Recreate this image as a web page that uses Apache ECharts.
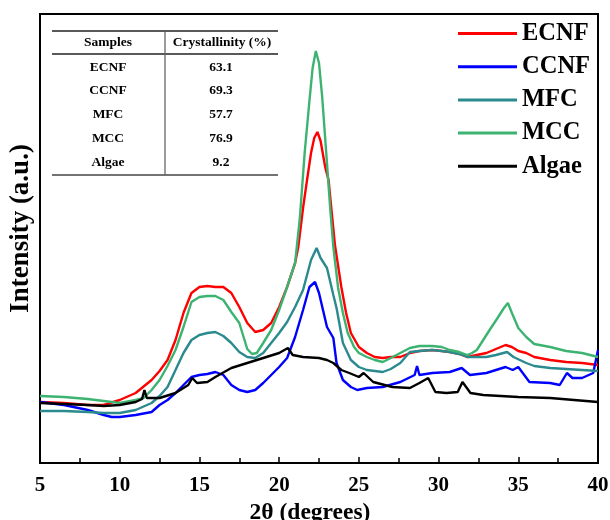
<!DOCTYPE html>
<html>
<head>
<meta charset="utf-8">
<script src="https://cdn.jsdelivr.net/npm/echarts@6/dist/echarts.min.js"></script>
<style>
  html, body { margin: 0; padding: 0; background: #fff; }
  #chart { width: 610px; height: 520px; }
</style>
</head>
<body>
<div id="chart"></div>
<script>
// XRD patterns, [2theta, intensity (a.u.)]
var ecnf = [[5,61],[6.5,60],[8,58],[9,58],[10,63],[11,70],[12,83],[12.5,92],[13,103],[13.5,123],[14,150],[14.5,170],[15,176],[15.5,177],[16,176],[16.5,176],[17,170],[17.5,156],[18,140],[18.5,131],[19,133],[19.5,140],[20,156],[20.5,176],[21,200],[21.2,216],[21.5,255],[21.75,283],[22,310],[22.2,325],[22.4,331],[22.6,322],[22.9,295],[23.1,283],[23.5,218],[23.9,176],[24.2,150],[24.5,130],[25,116],[25.5,110],[26,106],[26.5,105],[27,106],[27.6,106],[28.2,110],[28.8,112],[29.6,113],[30.2,112],[30.7,111],[31.3,109],[31.8,106],[32.4,108],[33,110],[33.6,114],[34.2,118],[34.6,116],[35,112],[35.5,110],[36,106],[37,103],[38,101],[39,100],[40,98]];
var ccnf = [[5,61],[6.5,58],[8,53],[9,48],[9.5,46],[10,46],[11,48],[12,51],[12.5,58],[13,63],[13.5,70],[14,78],[14.5,86],[15,88],[15.5,89],[16,91],[16.5,88],[17,78],[17.5,73],[18,71],[18.5,73],[19,80],[19.5,88],[20,96],[20.5,105],[21,126],[21.5,153],[21.9,176],[22.25,181],[22.5,170],[23,136],[23.4,125],[23.6,100],[24,83],[24.5,76],[24.9,73],[25.5,75],[26.5,76],[27.6,81],[28.5,88],[28.65,97],[28.8,88],[29.6,90],[30.7,91],[31.45,95],[31.97,88],[33,90],[34.2,96],[34.65,93],[35,96],[35.7,81],[37,80],[37.6,78],[38.05,90],[38.4,85],[39,85],[39.7,90],[40,113]];
var mfc = [[5,52],[6.5,52],[8,51],[9,50],[10,50],[11,53],[12,60],[12.5,67],[13,76],[13.5,93],[14,110],[14.5,123],[15,128],[15.5,130],[16,131],[16.5,127],[17,120],[17.5,111],[18,106],[18.5,105],[19,110],[19.5,120],[20,130],[20.5,141],[21,156],[21.5,173],[22,203],[22.35,215],[22.6,205],[23,195],[23.4,168],[23.6,155],[24,120],[24.5,103],[25,96],[25.5,93],[26.5,91],[27,94],[27.6,100],[28.2,111],[28.8,112],[29.6,113],[30.2,112],[30.7,111],[31.3,109],[31.8,106],[32.5,106],[33,106],[33.6,108],[34.3,111],[34.7,106],[35.5,100],[36,97],[37,95],[38,94],[39,93],[40,92]];
var mcc = [[5,67],[6.5,66],[8,64],[9,62],[10,60],[11,63],[11.5,65],[12,73],[12.5,83],[13,97],[13.5,113],[14,136],[14.5,161],[15,166],[15.5,167],[16,167],[16.5,163],[17,151],[17.5,140],[18,114],[18.3,109],[18.6,110],[19,120],[19.5,133],[20,153],[20.5,176],[21,200],[21.3,245],[21.6,310],[21.9,362],[22.1,395],[22.3,412],[22.5,400],[22.7,366],[23,300],[23.2,255],[23.4,216],[23.7,175],[24,150],[24.3,130],[24.7,116],[25,110],[25.5,106],[26,103],[26.5,101],[27,105],[27.6,110],[28.2,115],[28.8,117],[29.6,117],[30.2,116],[30.7,113],[31.3,111],[31.8,108],[32.1,110],[32.4,113],[32.8,123],[33.2,133],[33.7,145],[34.1,155],[34.35,160],[34.6,150],[35,135],[35.5,126],[36,119],[37,116],[38,112],[39,110],[40,106]];
var algae = [[5,60],[6.5,59],[8,58],[9,57],[10,58],[11,61],[11.4,64],[11.55,73],[11.7,65],[12.5,65],[13.5,70],[14,75],[14.3,78],[14.55,85],[14.85,80],[15.5,81],[16,86],[17,95],[18,100],[19,105],[20,110],[20.55,115],[20.85,108],[21.5,106],[22.5,105],[23,103],[23.4,100],[23.9,93],[24.4,90],[25,86],[25.3,90],[25.9,81],[27.1,76],[28.2,75],[28.8,80],[29.35,85],[29.8,71],[30.5,70],[31.2,71],[31.5,81],[32,70],[32.8,68],[35,66],[37,65],[40,61]];

var seriesNames = ['ECNF', 'CCNF', 'MFC', 'MCC', 'Algae'];
var seriesData = [ecnf, ccnf, mfc, mcc, algae];
var colors = ['#ff0000', '#0000ff', '#2a8a8e', '#3cb371', '#000000'];

// inset table
var samples = ['ECNF', 'CCNF', 'MFC', 'MCC', 'Algae'];
var crystallinity = ['63.1', '69.3', '57.7', '76.9', '9.2'];

var FONT = '"Liberation Serif", "Times New Roman", serif';

var chart = echarts.init(document.getElementById('chart'));

var series = seriesNames.map(function (name, i) {
  return {
    name: name,
    type: 'line',
    data: seriesData[i],
    showSymbol: false,
    symbol: 'none',
    smooth: false,
    lineStyle: { width: 2.4, color: colors[i] },
    itemStyle: { color: colors[i] },
    z: 2 + i
  };
});

// table built from the arrays above
var tbl = [];
var rowY = [68, 91, 115, 139, 163];
var cellFont = 'bold 13.5px ' + FONT;
tbl.push({ type: 'line', shape: { x1: 52, y1: 31, x2: 278, y2: 31 }, style: { stroke: '#222', lineWidth: 1.3 } });
tbl.push({ type: 'line', shape: { x1: 52, y1: 54, x2: 278, y2: 54 }, style: { stroke: '#222', lineWidth: 1.3 } });
tbl.push({ type: 'line', shape: { x1: 52, y1: 175, x2: 278, y2: 175 }, style: { stroke: '#444', lineWidth: 1.3 } });
tbl.push({ type: 'line', shape: { x1: 165, y1: 31, x2: 165, y2: 175 }, style: { stroke: '#666', lineWidth: 1.3 } });
tbl.push({ type: 'text', x: 108, y: 43, style: { text: 'Samples', font: cellFont, fill: '#000', align: 'center', verticalAlign: 'middle' } });
tbl.push({ type: 'text', x: 222, y: 43, style: { text: 'Crystallinity (%)', font: cellFont, fill: '#000', align: 'center', verticalAlign: 'middle' } });
samples.forEach(function (s, i) {
  tbl.push({ type: 'text', x: 108, y: rowY[i], style: { text: s, font: cellFont, fill: '#000', align: 'center', verticalAlign: 'middle' } });
  tbl.push({ type: 'text', x: 221, y: rowY[i], style: { text: crystallinity[i], font: cellFont, fill: '#000', align: 'center', verticalAlign: 'middle' } });
});

chart.setOption({
  animation: false,
  backgroundColor: '#fff',
  color: colors,
  grid: {
    left: 40,
    right: 12,
    top: 14,
    bottom: 57,
    outerBoundsMode: 'none',
    containLabel: false,
    show: true,
    borderColor: '#000',
    borderWidth: 2,
    backgroundColor: 'transparent'
  },
  legend: {
    orient: 'vertical',
    left: 453,
    top: 16,
    itemWidth: 59,
    itemHeight: 3,
    itemGap: 8.2,
    icon: 'rect',
    data: seriesNames,
    textStyle: {
      fontFamily: FONT,
      fontWeight: 'bold',
      fontSize: 24.5,
      lineHeight: 24,
      color: '#000'
    }
  },
  xAxis: {
    type: 'value',
    min: 5,
    max: 40,
    interval: 5,
    name: '2\u03b8 (degrees)',
    nameLocation: 'middle',
    nameGap: 35,
    nameTextStyle: { fontFamily: FONT, fontWeight: 'bold', fontSize: 23.5, color: '#000', padding: [0, 18, 0, 0] },
    axisLine: { show: true, onZero: false, lineStyle: { color: '#000', width: 2 } },
    axisTick: { show: true, inside: true, length: 6, lineStyle: { color: '#000', width: 1.5 } },
    minorTick: { show: true, splitNumber: 2, length: 5, lineStyle: { color: '#000', width: 1.5 } },
    axisLabel: { fontFamily: FONT, fontWeight: 'bold', fontSize: 21, color: '#000', margin: 12 },
    splitLine: { show: false }
  },
  yAxis: {
    type: 'value',
    min: 0,
    max: 449,
    name: 'Intensity (a.u.)',
    nameLocation: 'middle',
    nameGap: 5,
    nameTextStyle: { fontFamily: FONT, fontWeight: 'bold', fontSize: 27, color: '#000', padding: [0, 0, 0, 20] },
    axisLine: { show: true, lineStyle: { color: '#000', width: 2 } },
    axisTick: { show: false },
    axisLabel: { show: false },
    splitLine: { show: false }
  },
  graphic: { elements: tbl },
  series: series
});
</script>
</body>
</html>
